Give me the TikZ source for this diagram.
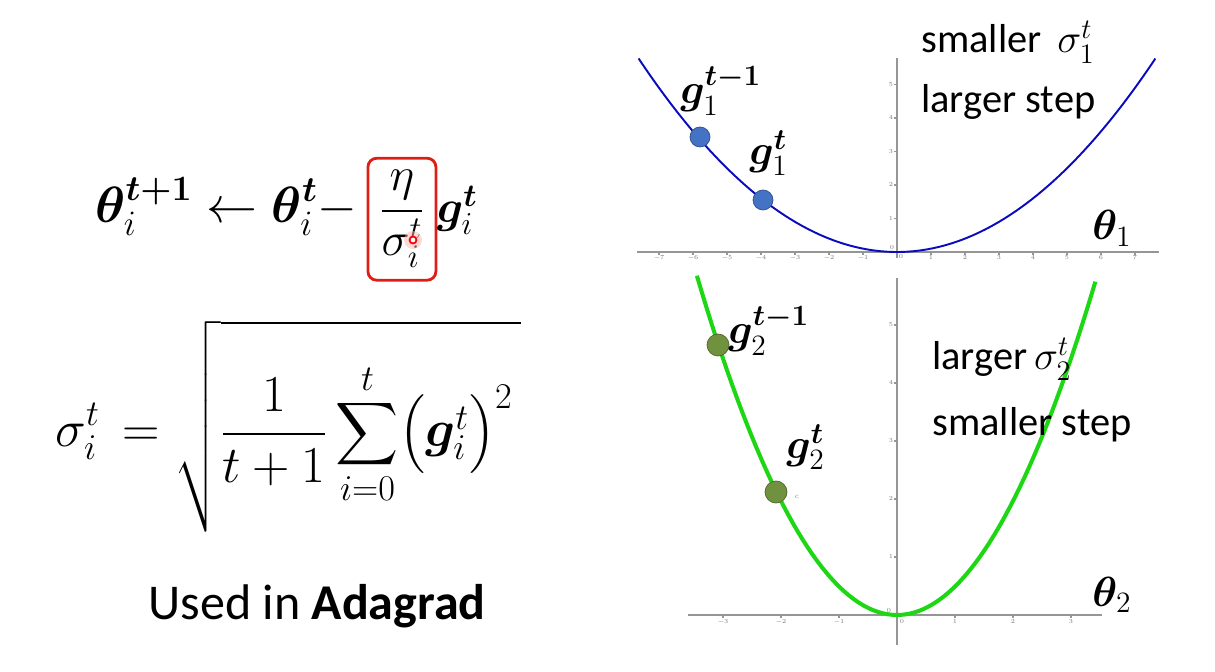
\documentclass[tikz,border=0pt]{standalone}
\usepackage{fix-cm}
\usepackage{amsmath,bm}
\usepackage[no-math]{fontspec}
\newfontfamily\calibri{Carlito}
\usetikzlibrary{positioning,calc}
\definecolor{curveblue}{RGB}{10,10,190}
\definecolor{curvegreen}{RGB}{30,215,20}
\definecolor{dotblue}{RGB}{68,114,196}
\definecolor{dotgreen}{RGB}{112,146,62}
\definecolor{axisgray}{RGB}{150,150,150}
\definecolor{boxred}{RGB}{220,30,20}

\begin{document}
\begin{tikzpicture}[x=0.02cm,y=-0.02cm,
  axisline/.style={draw=axisgray,line width=0.6pt},
  tlabel/.style={font=\fontsize{3.5}{4}\selectfont,text=axisgray!80!black,inner sep=0.5pt},
  txt/.style={font=\calibri\fontsize{23}{28}\selectfont,anchor=base west,inner sep=0pt},
  mlabel/.style={font=\fontsize{24}{28}\selectfont,anchor=base west,inner sep=0pt},
  fml/.style={font=\fontsize{29}{34}\selectfont,inner sep=0pt},
  bdot/.style={circle,fill=dotblue,draw=dotblue!70!black,line width=0.4pt,minimum size=0.4cm,inner sep=0pt},
  gdot/.style={circle,fill=dotgreen,draw=dotgreen!70!black,line width=0.4pt,minimum size=0.44cm,inner sep=0pt}
]
\useasboundingbox (0,0) rectangle (1215,672);

% left: update rule
\node[fml,anchor=base west] (upd) at (95,223) {$\displaystyle \bm{\theta}_i^{\bm{t+1}} \leftarrow \bm{\theta}_i^{\bm{t}} -$};
\node[fml,font=\fontsize{27}{32}\selectfont,anchor=base west,draw=boxred,line width=1.6pt,rounded corners=5pt,
  minimum width=1.36cm,minimum height=2.44cm] (lr) at ([xshift=5pt]upd.base east) {$\displaystyle\frac{\eta}{\sigma_i^t}$};
\node[fml,font=\fontsize{26}{32}\selectfont,anchor=base west] (grad) at ([xshift=-0.5pt]lr.base east) {$\bm{g}_i^{\bm{t}}$};
\fill[red!30,opacity=0.5] (413,240) circle (9);
\draw[red,line width=1pt,fill=white] (413,240) circle (3.5);

% left: sigma
\node[fml,font=\fontsize{29.5}{36}\selectfont,anchor=base west] (sig) at (55,447) {$\displaystyle \sigma_i^t \,= \sqrt{\rule[-1.55em]{0pt}{3.7em}\frac{1}{t+1}\sum_{i=0}^{t}\bigl(\bm{g}_i^{t}\bigr)^2\,}$};
\node[font=\calibri\fontsize{28.5}{34}\selectfont,anchor=base west,inner sep=0pt] (ada) at (148,620) {Used in \textbf{Adagrad}};

% top plot
\draw[axisline] (637,252) -- (1159,252);
\draw[axisline] (897,58) -- (897,258);
\foreach \k in {-7,...,-1,1,2,...,7} {
  \draw[axisline] ({897+34*\k},252) -- ++(0,3);
  \node[tlabel] (tx\k) at ({897+34*\k},258) {$\k$};
}
\foreach \k in {1,...,5} {
  \draw[axisline] (897,{252-33.5*\k}) -- ++(-3,0);
  \node[tlabel] (ty\k) at (891,{252-33.5*\k}) {$\k$};
}
\node[tlabel] (to1) at (892,248) {$0$};
\node[tlabel] (to2) at (901,257) {$0$};
\draw[curveblue,line width=1.1pt,domain=-7.6:7.6,samples=80] plot ({897+34*\x},{252-3.35*\x*\x});
\node[bdot] (b1) at (700,137) {};
\node[bdot] (b2) at (763,200) {};
\node[mlabel] (lb1) at (680,104) {$\bm{g}_1^{\bm{t-1}}$};
\node[mlabel] (lb2) at (749,165) {$\bm{g}_1^{\bm{t}}$};
\node[mlabel] (th1) at (1092,240) {$\bm{\theta}_1$};
\node[txt] (sm1) at (921,53) {smaller\ \,$\sigma_1^t$};
\node[txt] (ls1) at (921,113) {larger step};

% bottom plot
\draw[axisline] (688,615) -- (1102,615);
\draw[axisline] (897,278) -- (897,645);
\foreach \k in {-3,...,-1,1,2,3} {
  \draw[axisline] ({897+58*\k},615) -- ++(0,3);
  \node[tlabel] (bx\k) at ({897+58*\k},622) {$\k$};
}
\foreach \k in {1,...,5} {
  \draw[axisline] (897,{615-58*\k}) -- ++(-3,0);
  \node[tlabel] (by\k) at (891,{615-58*\k}) {$\k$};
}
\node[tlabel] (bo1) at (889,611) {$0$};
\node[tlabel] (bo2) at (902,622) {$0$};
\draw[curvegreen,line width=2.3pt,domain=-3.45:3.42,samples=80] plot ({897+58*\x},{615-28.5*\x*\x});
\node[gdot] (d1) at (718,345) {};
\node[gdot] (d2) at (776,492) {};
\node[font=\fontsize{4}{5}\selectfont,text=curvegreen,inner sep=0pt] (cc) at (797,497) {c};
\node[mlabel] (lg1) at (728,344) {$\bm{g}_2^{\bm{t-1}}$};
\node[mlabel] (lg2) at (786,459) {$\bm{g}_2^{\bm{t}}$};
\node[mlabel] (th2) at (1092,606) {$\bm{\theta}_2$};
\node[txt] (ls2) at (932,370) {larger\,$\sigma_2^t$};
\node[txt] (ss2) at (932,436) {smaller step};
\end{tikzpicture}
\end{document}
